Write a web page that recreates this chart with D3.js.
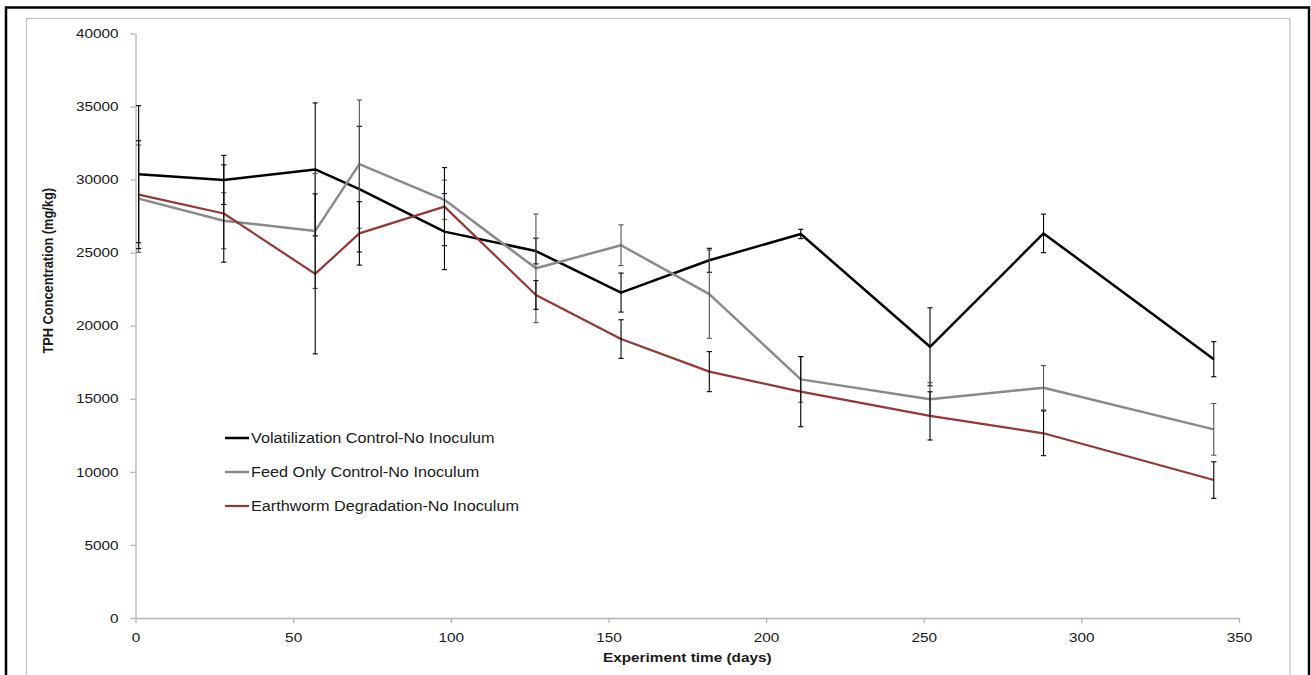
<!DOCTYPE html>
<html>
<head>
<meta charset="utf-8">
<script src="https://cdn.jsdelivr.net/npm/d3@7"></script>
<style>
  html, body { margin: 0; padding: 0; background: #fff; }
  svg { display: block; }
  text { font-family: "Liberation Sans", Arial, sans-serif; fill: #1a1a1a; }
</style>
</head>
<body>
<div id="chart"></div>
<script>
// Sampling days
const days = [1, 28, 57, 71, 98, 127, 154, 182, 211, 252, 288, 342];

// TPH means (mg/kg) and error bar half-widths
const volatilization    = [30370, 29980, 30700, 29350, 26440, 25110, 22270, 24480, 26280, 18560, 26320, 17710];
const volatilizationErr = [4690, 1680, 4550, 4300, 2600, 880, 1335, 820, 320, 2670, 1320, 1200];

const feedOnly    = [28700, 27190, 26490, 31060, 28620, 23930, 25510, 22160, 16330, 14970, 15760, 12910];
const feedOnlyErr = [3670, 1920, 3935, 4390, 1345, 3720, 1395, 3020, 1560, 1140, 1515, 1770];

const earthworm    = [28970, 27680, 23550, 26320, 28150, 22105, 19090, 16860, 15490, 13830, 12640, 9440];
const earthwormErr = [3695, 3330, 5475, 2170, 2670, 980, 1320, 1370, 2400, 1650, 1530, 1250];

const seriesNames = [
  "Volatilization Control-No Inoculum",
  "Feed Only Control-No Inoculum",
  "Earthworm Degradation-No Inoculum"
];

const xTicks = [0, 50, 100, 150, 200, 250, 300, 350];
const yTicks = [0, 5000, 10000, 15000, 20000, 25000, 30000, 35000, 40000];

const W = 1311, H = 675;
const SX = 1.18; // the original picture is stretched sideways

const svg = d3.select("#chart").append("svg")
  .attr("width", W)
  .attr("height", H);

// frames
svg.append("rect")
  .attr("x", 6).attr("y", 7.5)
  .attr("width", 1303).attr("height", 700)
  .attr("fill", "none")
  .attr("stroke", "#000")
  .attr("stroke-width", 2.5);

svg.append("rect")
  .attr("x", 26.5).attr("y", 18.5)
  .attr("width", 1263.5).attr("height", 700)
  .attr("fill", "none")
  .attr("stroke", "#c0c0c0")
  .attr("stroke-width", 1.2);

const x = d3.scaleLinear().domain([0, 350]).range([135.5, 1239]);
const y = d3.scaleLinear().domain([0, 40000]).range([618, 33.5]);

// axes
const xAxis = svg.append("g")
  .attr("transform", `translate(0,${y(0)})`)
  .call(d3.axisBottom(x).tickValues(xTicks).tickSize(5).tickPadding(10).tickSizeOuter(0));

const yAxis = svg.append("g")
  .attr("transform", `translate(${x(0)},0)`)
  .call(d3.axisLeft(y).tickValues(yTicks).tickSize(5).tickSizeOuter(0).tickFormat(d3.format("d")));

[xAxis, yAxis].forEach(a => {
  a.select(".domain").attr("stroke", "#b3b3b3").attr("stroke-width", 1.3);
  a.selectAll(".tick line").attr("stroke", "#b3b3b3").attr("stroke-width", 1.3);
  a.selectAll(".tick text")
    .attr("font-size", 13)
    .attr("font-family", "Liberation Sans, Arial, sans-serif")
    .attr("fill", "#1a1a1a");
});
xAxis.selectAll(".tick text").attr("transform", `scale(${SX},1)`);
yAxis.selectAll(".tick text")
  .attr("x", -17 / SX)
  .attr("transform", `scale(${SX},1)`);

// axis titles
svg.append("text")
  .attr("transform", `translate(${(x(0) + x(350)) / 2},662) scale(${SX},1)`)
  .attr("text-anchor", "middle")
  .attr("font-size", 13)
  .attr("font-weight", "bold")
  .text("Experiment time (days)");

svg.append("text")
  .attr("transform", `translate(53,${(y(0) + y(40000)) / 2 - 55}) rotate(-90) scale(1,${SX})`)
  .attr("text-anchor", "middle")
  .attr("font-size", 12.8)
  .attr("font-weight", "bold")
  .text("TPH Concentration (mg/kg)");

// series
const series = [
  { name: seriesNames[0], values: volatilization, err: volatilizationErr, color: "#000000", barColor: "#000000", width: 2.5 },
  { name: seriesNames[1], values: feedOnly, err: feedOnlyErr, color: "#8a8a8a", barColor: "#555555", width: 2.5 },
  { name: seriesNames[2], values: earthworm, err: earthwormErr, color: "#953735", barColor: "#000000", width: 2.2 }
];

const line = d3.line()
  .x(d => x(d.day))
  .y(d => y(d.v));

const cap = 2.6;

series.forEach(s => {
  const pts = days.map((day, i) => ({ day, v: s.values[i], e: s.err[i] }));
  const g = svg.append("g");

  g.append("path")
    .datum(pts)
    .attr("fill", "none")
    .attr("stroke", s.color)
    .attr("stroke-width", s.width)
    .attr("stroke-linejoin", "round")
    .attr("d", line);

  // error bars
  const bars = g.append("g")
    .attr("stroke", s.barColor)
    .attr("stroke-width", 1.1)
    .selectAll("g")
    .data(pts)
    .join("g");

  bars.append("line")
    .attr("x1", d => x(d.day)).attr("x2", d => x(d.day))
    .attr("y1", d => y(d.v + d.e)).attr("y2", d => y(d.v - d.e));
  bars.append("line")
    .attr("x1", d => x(d.day) - cap).attr("x2", d => x(d.day) + cap)
    .attr("y1", d => y(d.v + d.e)).attr("y2", d => y(d.v + d.e));
  bars.append("line")
    .attr("x1", d => x(d.day) - cap).attr("x2", d => x(d.day) + cap)
    .attr("y1", d => y(d.v - d.e)).attr("y2", d => y(d.v - d.e));
});

// legend
const legend = svg.append("g").selectAll("g")
  .data(series)
  .join("g")
  .attr("transform", (d, i) => `translate(225,${438 + i * 34})`);

legend.append("line")
  .attr("x1", 0).attr("x2", 24)
  .attr("stroke", d => d.color)
  .attr("stroke-width", d => d.width);

legend.append("text")
  .attr("transform", `translate(26,0) scale(1.16,1)`)
  .attr("dy", "0.36em")
  .attr("font-size", 14)
  .text(d => d.name);
</script>
</body>
</html>
